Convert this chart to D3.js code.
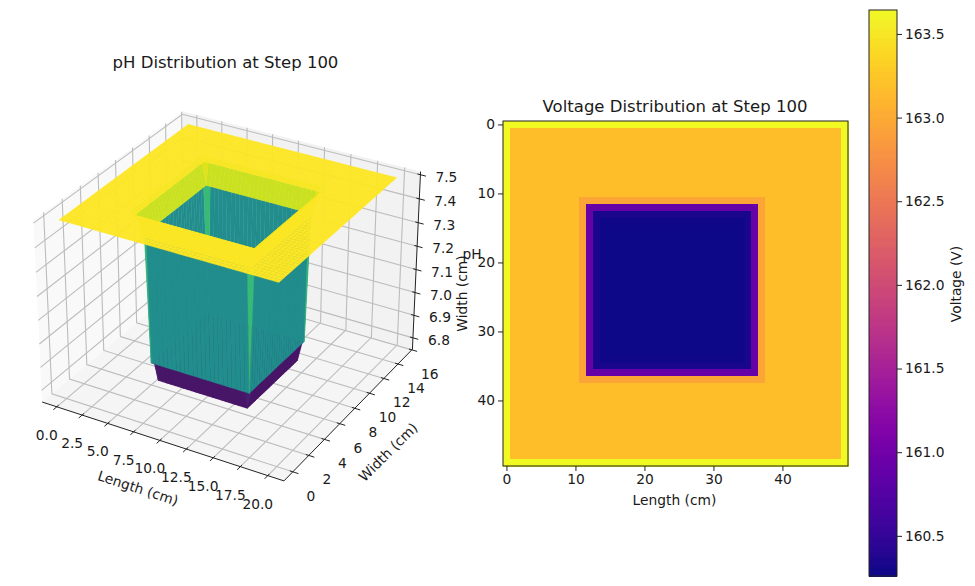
<!DOCTYPE html>
<html>
<head>
<meta charset="utf-8">
<script src="https://cdn.jsdelivr.net/npm/d3@7"></script>
<style>
	body { margin: 0; background: #fff; }
	text { font-family: "DejaVu Sans", sans-serif; fill: #1a1a1a; }
</style>
</head>
<body>
<svg id="chart" width="975" height="586"></svg>
<script>

	// values by distance from the centre of the 50x50 grid (index 0 = centre, last = rim of the well)
	var phCore = [6.78, 6.78, 6.78, 6.78, 6.78, 6.78, 6.78, 6.78, 6.78, 6.78, 6.78, 6.86, 7.40, 7.487];
	var voltCore = [160.27, 160.27, 160.27, 160.27, 160.27, 160.27, 160.27, 160.27, 160.27, 160.27, 160.28, 160.32, 160.9, 162.95];
	// flat plate around the well and its outermost row of cells
	var phPlate = 7.5;
	var phEdge = 7.5;
	var voltPlate = 163.18;
	var voltEdge = 163.64;
	// the well is not centred the same way in the two fields
	var phCentre = [24.5, 23.5];
	var voltCentre = [24, 24];

	var lengthTicks = [0, 2.5, 5, 7.5, 10, 12.5, 15, 17.5, 20];
	var widthTicks = [0, 2, 4, 6, 8, 10, 12, 14, 16];
	var phTicks = [6.8, 6.9, 7.0, 7.1, 7.2, 7.3, 7.4, 7.5];
	var cellTicks = [0, 10, 20, 30, 40];
	var voltTicks = [160.5, 161, 161.5, 162, 162.5, 163, 163.5];

	var gridSize = 50;
	var lengthMax = 20;
	var widthMax = 15;
	var xLim = [-1.46, 21.46];
	var yLim = [-1.09, 16.09];
	var zLim = [6.749, 7.513];
	var voltLim = [160.26, 163.643];

	var svg = d3.select("#chart");

	function cellValue(i, j, centre, core, plate, edge) {
		if (i === 0 || j === 0 || i === gridSize - 1 || j === gridSize - 1) return edge;
		var d = Math.floor(Math.max(Math.abs(i - centre[0]), Math.abs(j - centre[1])));
		return d < core.length ? core[d] : plate;
	}

	drawSurfacePanel();
	drawHeatmapPanel();
	drawColorbar();

	function drawSurfacePanel() {

		var g = svg.append("g").attr("class", "surface3d");

		var elev = 30 * Math.PI / 180, azim = -60 * Math.PI / 180, dist = 10;
		var n = [Math.cos(elev) * Math.cos(azim), Math.cos(elev) * Math.sin(azim), Math.sin(elev)];
		var u = [-Math.sin(azim), Math.cos(azim), 0];
		var v = [n[1] * u[2] - n[2] * u[1], n[2] * u[0] - n[0] * u[2], n[0] * u[1] - n[1] * u[0]];

		var bx = d3.scaleLinear().domain(xLim).range([-0.595, 0.595]);
		var by = d3.scaleLinear().domain(yLim).range([-0.595, 0.595]);
		var bz = d3.scaleLinear().domain(zLim).range([-0.4465, 0.4465]);
		var sx = d3.scaleLinear().domain([-0.1, 0.1]).range([230.7 - 232.8, 230.7 + 232.8]);
		var sy = d3.scaleLinear().domain([-0.1, 0.1]).range([287.2 + 232.5, 287.2 - 232.5]);

		function project(x, y, z) {
			var p = [bx(x), by(y), bz(z)];
			var depth = d3.sum(p, function(d, i) { return d * n[i]; });
			var s = 1 / (dist - depth);
			return [
				sx(d3.sum(p, function(d, i) { return d * u[i]; }) * s),
				sy(d3.sum(p, function(d, i) { return d * v[i]; }) * s),
				depth
			];
		}

		function path3d(pts) {
			return "M" + pts.map(function(d) {
				var p = project(d[0], d[1], d[2]);
				return p[0].toFixed(2) + "," + p[1].toFixed(2);
			}).join("L");
		}

		// back panes
		var panes = [
			{ fill: "#f9f9f9", pts: [[xLim[0], yLim[0], zLim[0]], [xLim[0], yLim[1], zLim[0]], [xLim[0], yLim[1], zLim[1]], [xLim[0], yLim[0], zLim[1]]] },
			{ fill: "#f2f2f2", pts: [[xLim[0], yLim[1], zLim[0]], [xLim[1], yLim[1], zLim[0]], [xLim[1], yLim[1], zLim[1]], [xLim[0], yLim[1], zLim[1]]] },
			{ fill: "#f5f5f5", pts: [[xLim[0], yLim[0], zLim[0]], [xLim[1], yLim[0], zLim[0]], [xLim[1], yLim[1], zLim[0]], [xLim[0], yLim[1], zLim[0]]] }
		];
		g.selectAll(".pane").data(panes).enter().append("path")
			.attr("class", "pane")
			.attr("fill", function(d) { return d.fill; })
			.attr("d", function(d) { return path3d(d.pts) + "Z"; });

		// grid lines on the panes
		var gridLines = [];
		lengthTicks.forEach(function(t) {
			gridLines.push([[t, yLim[0], zLim[0]], [t, yLim[1], zLim[0]], [t, yLim[1], zLim[1]]]);
		});
		widthTicks.forEach(function(t) {
			gridLines.push([[xLim[1], t, zLim[0]], [xLim[0], t, zLim[0]], [xLim[0], t, zLim[1]]]);
		});
		phTicks.forEach(function(t) {
			gridLines.push([[xLim[0], yLim[0], t], [xLim[0], yLim[1], t], [xLim[1], yLim[1], t]]);
		});
		g.selectAll(".grid3d").data(gridLines).enter().append("path")
			.attr("class", "grid3d")
			.attr("fill", "none")
			.attr("stroke", "#bcbcbc")
			.attr("stroke-width", 1.1)
			.attr("d", path3d);

		// surface quads, far ones first
		var xs = d3.scaleLinear().domain([0, gridSize - 1]).range([0, lengthMax]);
		var ys = d3.scaleLinear().domain([0, gridSize - 1]).range([0, widthMax]);
		var phColor = d3.scaleSequential(d3.interpolateViridis).domain([d3.min(phCore), phPlate]);

		var quads = [];
		d3.range(gridSize - 1).forEach(function(i) {
			d3.range(gridSize - 1).forEach(function(j) {
				var corners = [[i, j], [i + 1, j], [i + 1, j + 1], [i, j + 1]].map(function(c) {
					return [xs(c[0]), ys(c[1]), cellValue(c[0], c[1], phCentre, phCore, phPlate, phEdge)];
				});
				quads.push({
					pts: corners,
					z: d3.mean(corners, function(c) { return c[2]; }),
					depth: d3.mean(corners, function(c) { return project(c[0], c[1], c[2])[2]; })
				});
			});
		});
		quads.sort(function(a, b) { return a.depth - b.depth; });

		g.selectAll(".quad").data(quads).enter().append("path")
			.attr("class", "quad")
			.attr("fill", function(d) { return phColor(d.z); })
			.attr("stroke", function(d) { return phColor(d.z); })
			.attr("stroke-width", 0.4)
			.attr("d", function(d) { return path3d(d.pts) + "Z"; });

		// axis lines
		var axisLines = [
			[[xLim[0], yLim[0], zLim[0]], [xLim[1], yLim[0], zLim[0]]],
			[[xLim[1], yLim[0], zLim[0]], [xLim[1], yLim[1], zLim[0]]],
			[[xLim[1], yLim[1], zLim[0]], [xLim[1], yLim[1], zLim[1]]]
		];
		g.selectAll(".axis3d").data(axisLines).enter().append("path")
			.attr("class", "axis3d")
			.attr("fill", "none")
			.attr("stroke", "#222")
			.attr("stroke-width", 1)
			.attr("d", path3d);

		// tick marks follow the grid direction
		var xSpan = xLim[1] - xLim[0], ySpan = yLim[1] - yLim[0];
		var tickLines = [];
		lengthTicks.forEach(function(t) {
			tickLines.push([[t, yLim[0] + ySpan * 0.012, zLim[0]], [t, yLim[0] - ySpan * 0.022, zLim[0]]]);
		});
		widthTicks.forEach(function(t) {
			tickLines.push([[xLim[1] - xSpan * 0.012, t, zLim[0]], [xLim[1] + xSpan * 0.022, t, zLim[0]]]);
		});
		phTicks.forEach(function(t) {
			tickLines.push([[xLim[1] - xSpan * 0.012, yLim[1], t], [xLim[1] + xSpan * 0.022, yLim[1], t]]);
		});
		g.selectAll(".tick3d").data(tickLines).enter().append("path")
			.attr("class", "tick3d")
			.attr("fill", "none")
			.attr("stroke", "#222")
			.attr("stroke-width", 1)
			.attr("d", path3d);

		// tick labels
		function tickLabels(values, at, dx, dy, fmt) {
			g.selectAll(null).data(values).enter().append("text")
				.attr("x", function(d) { return project.apply(null, at(d))[0] + dx; })
				.attr("y", function(d) { return project.apply(null, at(d))[1] + dy; })
				.attr("text-anchor", "middle")
				.attr("dominant-baseline", "central")
				.style("font-size", "13.8px")
				.text(fmt);
		}
		tickLabels(lengthTicks, function(d) { return [d, yLim[0], zLim[0]]; }, -10, 28, d3.format(".1f"));
		tickLabels(widthTicks, function(d) { return [xLim[1], d, zLim[0]]; }, 18, 24, d3.format("d"));
		tickLabels(phTicks, function(d) { return [xLim[1], yLim[1], d]; }, 26, 2, d3.format(".1f"));

		g.append("text").attr("transform", "translate(138,488) rotate(18)")
			.attr("text-anchor", "middle").attr("dominant-baseline", "central")
			.style("font-size", "13.8px").text("Length (cm)");
		g.append("text").attr("transform", "translate(388,452) rotate(-45)")
			.attr("text-anchor", "middle").attr("dominant-baseline", "central")
			.style("font-size", "13.8px").text("Width (cm)");
		g.append("text").attr("x", 472).attr("y", 254)
			.attr("text-anchor", "middle").attr("dominant-baseline", "central")
			.style("font-size", "13.8px").text("pH");
		g.append("text").attr("x", 225.5).attr("y", 68)
			.attr("text-anchor", "middle")
			.style("font-size", "16.5px").text("pH Distribution at Step 100");
	}

	function drawHeatmapPanel() {

		var left = 503, top = 121, size = 345;
		var g = svg.append("g").attr("class", "heatmap").attr("transform", "translate(" + left + "," + top + ")");

		var x = d3.scaleLinear().domain([-0.5, gridSize - 0.5]).range([0, size]);
		var y = d3.scaleLinear().domain([-0.5, gridSize - 0.5]).range([0, size]);
		var color = d3.scaleSequential(d3.interpolatePlasma).domain(voltLim);

		var cells = [];
		d3.range(gridSize).forEach(function(i) {
			d3.range(gridSize).forEach(function(j) {
				cells.push({ i: i, j: j, value: cellValue(i, j, voltCentre, voltCore, voltPlate, voltEdge) });
			});
		});

		g.selectAll(".cell").data(cells).enter().append("rect")
			.attr("class", "cell")
			.attr("x", function(d) { return x(d.i - 0.5); })
			.attr("y", function(d) { return y(d.j - 0.5); })
			.attr("width", x(1) - x(0) + 0.5)
			.attr("height", y(1) - y(0) + 0.5)
			.attr("shape-rendering", "crispEdges")
			.attr("fill", function(d) { return color(d.value); });

		g.append("g").attr("class", "x axis")
			.attr("transform", "translate(0," + size + ")")
			.call(d3.axisBottom(x).tickValues(cellTicks).tickSize(5).tickSizeOuter(0));
		g.append("g").attr("class", "y axis")
			.call(d3.axisLeft(y).tickValues(cellTicks).tickSize(5).tickSizeOuter(0));
		g.selectAll(".axis .domain").remove();
		g.selectAll(".axis text").style("font-size", "13.8px").style("font-family", "DejaVu Sans");
		g.selectAll(".axis line").attr("stroke", "#222");

		g.append("rect").attr("width", size).attr("height", size)
			.attr("fill", "none").attr("stroke", "#222").attr("stroke-width", 1);

		g.append("text").attr("x", size / 2 - 0.5).attr("y", -9)
			.attr("text-anchor", "middle")
			.style("font-size", "16.5px").text("Voltage Distribution at Step 100");
		g.append("text").attr("x", size / 2 - 1).attr("y", size + 39)
			.attr("text-anchor", "middle")
			.style("font-size", "13.8px").text("Length (cm)");
		g.append("text").attr("transform", "translate(-41," + (size / 2) + ") rotate(-90)")
			.attr("text-anchor", "middle").attr("dominant-baseline", "central")
			.style("font-size", "13.8px").text("Width (cm)");
	}

	function drawColorbar() {

		var left = 869, top = 10, barWidth = 28, barHeight = 566;
		var g = svg.append("g").attr("class", "colorbar").attr("transform", "translate(" + left + "," + top + ")");

		var y = d3.scaleLinear().domain(voltLim).range([barHeight, 0]);
		var color = d3.scaleSequential(d3.interpolatePlasma).domain(voltLim);
		var steps = d3.range(0, 256).map(function(k) { return voltLim[0] + (voltLim[1] - voltLim[0]) * k / 256; });
		var stepH = barHeight / 256;

		g.selectAll(".step").data(steps).enter().append("rect")
			.attr("class", "step")
			.attr("x", 0)
			.attr("y", function(d) { return y(d) - stepH; })
			.attr("width", barWidth)
			.attr("height", stepH + 0.5)
			.attr("shape-rendering", "crispEdges")
			.attr("fill", function(d) { return color(d); });

		g.append("rect").attr("width", barWidth).attr("height", barHeight)
			.attr("fill", "none").attr("stroke", "#222").attr("stroke-width", 1);

		var axis = g.append("g").attr("class", "y axis")
			.attr("transform", "translate(" + barWidth + ",0)")
			.call(d3.axisRight(y).tickValues(voltTicks).tickFormat(d3.format(".1f")).tickSize(5).tickSizeOuter(0));
		axis.select(".domain").remove();
		axis.selectAll("line").attr("stroke", "#222");
		axis.selectAll("text").style("font-size", "13.8px").style("font-family", "DejaVu Sans");

		g.append("text").attr("transform", "translate(" + (barWidth + 59) + "," + (barHeight / 2 - 9) + ") rotate(-90)")
			.attr("text-anchor", "middle").attr("dominant-baseline", "central")
			.style("font-size", "13.8px").text("Voltage (V)");
	}

</script>
</body>
</html>
